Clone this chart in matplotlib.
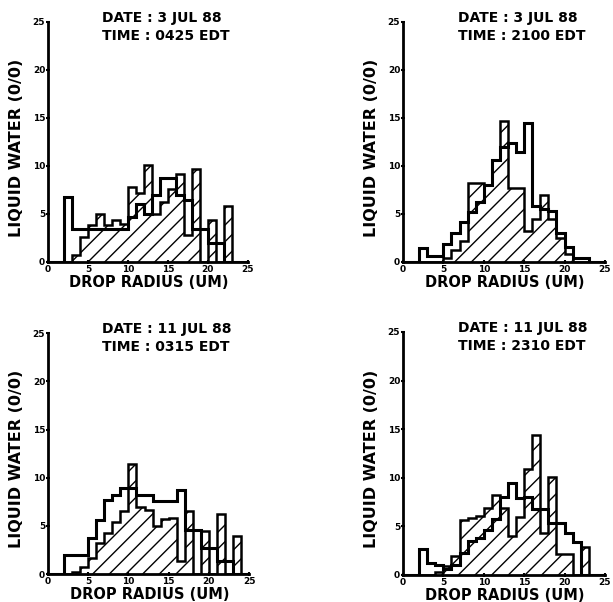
import numpy as np
import matplotlib
matplotlib.use("Agg")
import matplotlib.pyplot as plt

# drop radius bins (um), 1 um wide
edges = np.arange(0, 26)

dates = ["DATE : 3 JUL 88", "DATE : 3 JUL 88", "DATE : 11 JUL 88", "DATE : 11 JUL 88"]
times = ["TIME : 0425 EDT", "TIME : 2100 EDT", "TIME : 0315 EDT", "TIME : 2310 EDT"]

# open (outlined) histograms, liquid water %
open1 = [0, 0, 6.8, 3.4, 3.4, 3.4, 3.4, 3.4, 3.4, 3.4, 4.7, 6.0, 5.0, 7.0, 8.7, 8.7, 7.0, 6.5, 3.4, 3.4, 2.0, 2.0, 0, 0, 0]
open2 = [0, 0, 1.5, 0.6, 0.6, 1.9, 3.0, 4.2, 5.2, 6.3, 8.0, 10.6, 12.0, 12.4, 11.5, 14.5, 5.8, 5.5, 5.3, 3.0, 1.6, 0.4, 0.4, 0, 0]
open3 = [0, 0, 2.0, 2.0, 2.0, 3.7, 5.6, 7.7, 8.2, 8.9, 8.9, 8.2, 8.2, 7.6, 7.6, 7.6, 8.7, 4.6, 4.6, 2.7, 2.7, 1.3, 1.3, 0, 0]
open4 = [0, 0, 2.7, 1.2, 1.0, 0.6, 1.0, 2.3, 3.5, 3.8, 4.6, 5.8, 8.0, 9.5, 7.9, 8.0, 6.8, 6.8, 5.3, 5.3, 4.3, 3.4, 0, 0, 0]

# hatched histograms
hatch1 = [0, 0, 0, 0.7, 2.6, 3.9, 5.0, 3.9, 4.4, 4.0, 7.8, 7.2, 10.1, 5.0, 6.3, 7.6, 9.2, 2.8, 9.7, 0, 4.4, 0, 5.8, 0, 0]
hatch2 = [0, 0, 0, 0, 0, 0.4, 1.2, 2.2, 8.2, 8.2, 8.0, 10.6, 14.7, 7.7, 7.7, 3.2, 4.5, 7.0, 4.5, 2.5, 0.8, 0, 0, 0, 0]
hatch3 = [0, 0, 0, 0.2, 0.7, 1.7, 3.2, 4.3, 5.4, 6.5, 11.4, 7.0, 6.6, 5.0, 5.7, 5.8, 1.3, 6.5, 0, 4.5, 0, 6.2, 0, 3.9, 0]
hatch4 = [0, 0, 0, 0, 0.3, 0.9, 2.0, 5.7, 5.9, 6.1, 6.9, 8.2, 6.9, 4.0, 6.0, 10.9, 14.4, 4.3, 10.1, 2.2, 2.2, 0, 2.9, 0, 0]

ticks = [0, 5, 10, 15, 20, 25]

opens = [open1, open2, open3, open4]
hatches = [hatch1, hatch2, hatch3, hatch4]
rects = [
    [0.0783, 0.5648, 0.326, 0.3987],
    [0.6574, 0.5648, 0.3295, 0.3987],
    [0.0783, 0.0465, 0.328, 0.400],
    [0.6574, 0.0449, 0.3295, 0.4037],
]

plt.rcParams['hatch.linewidth'] = 1.0
plt.rcParams['hatch.color'] = 'black'

fig = plt.figure(figsize=(6.13, 6.02), dpi=100)

for i in range(4):
    ax = fig.add_axes(rects[i])
    ax.stairs(hatches[i], edges, fill=True, facecolor='none', edgecolor='black',
              hatch='//', linewidth=1.8)
    ax.stairs(opens[i], edges, color='black', linewidth=2.2)

    ax.set_xlim(0, 25)
    ax.set_ylim(0, 25)
    ax.set_xticks(ticks)
    ax.set_yticks(ticks)
    for s in ['top', 'right']:
        ax.spines[s].set_visible(False)
    for s in ['left', 'bottom']:
        ax.spines[s].set_linewidth(2.0)
    ax.tick_params(direction='inout', length=3, width=1.5, labelsize=6.5, pad=0.5)
    for lab in ax.get_xticklabels() + ax.get_yticklabels():
        lab.set_fontweight('bold')

    ax.set_xlabel("DROP RADIUS (UM)", fontsize=10.5, fontweight='bold')
    ax.set_ylabel("LIQUID WATER (0/0)", fontsize=11.5, fontweight='bold')
    ax.xaxis.set_label_coords(0.505, -0.053)
    ax.yaxis.set_label_coords(-0.12, 0.477)

    ax.text(0.27, 1.018, dates[i], transform=ax.transAxes, va='center',
            fontsize=10, fontweight='bold')
    ax.text(0.27, 0.942, times[i], transform=ax.transAxes, va='center',
            fontsize=10, fontweight='bold')

fig.savefig("out.png", dpi=100, facecolor='white')
